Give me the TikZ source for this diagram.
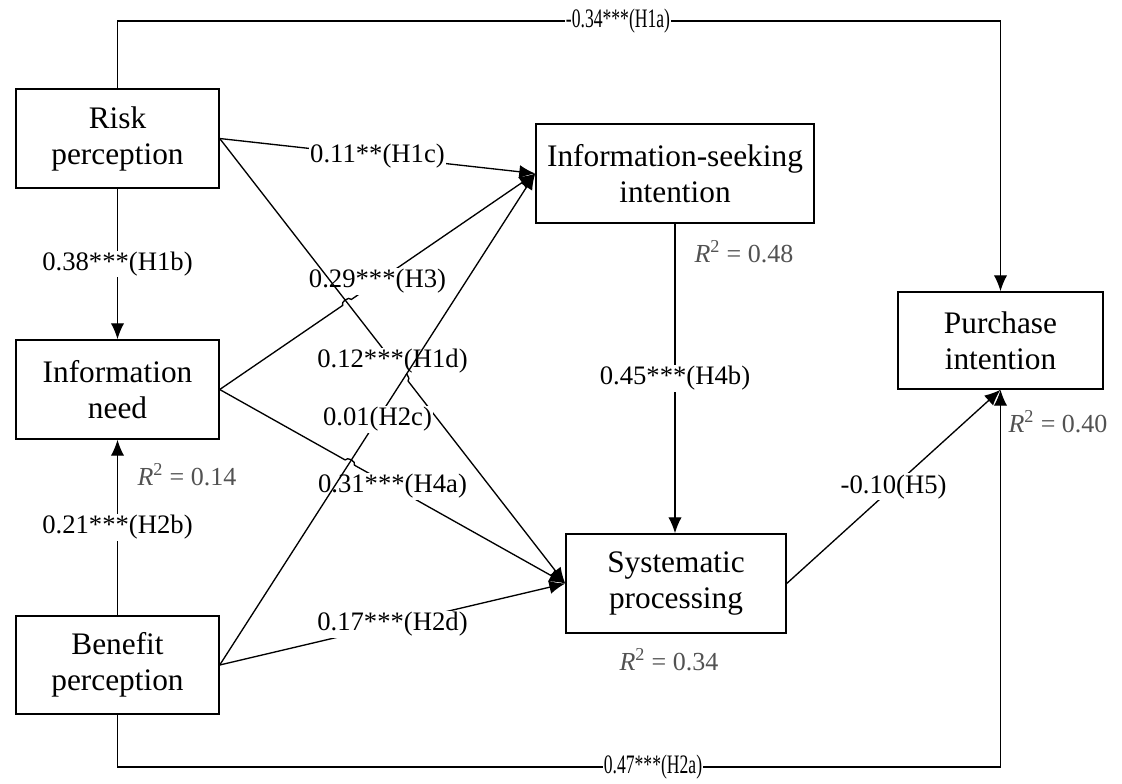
\documentclass[tikz,border=0pt]{standalone}
\usepackage{fontspec}
\setmainfont{Liberation Serif}
\usetikzlibrary{arrows.meta,calc}
\begin{document}
\begin{tikzpicture}[x=0.75pt,y=-0.75pt,
  box/.style={draw, line width=1.1pt, align=center, inner sep=0pt,
    font=\fontsize{23.5}{27}\selectfont},
  lbl/.style={fill=white, inner sep=1pt, font=\fontsize{20}{24}\selectfont},
  longlbl/.style={fill=white, inner sep=1pt, font=\fontsize{20}{24}\selectfont},
  rsq/.style={text=black!68, font=\fontsize{19.5}{22}\selectfont},
  conn/.style={line width=1pt, -{Latex[length=12pt,width=10pt]}},
  plain/.style={line width=1pt}
  ]
\useasboundingbox (0,0) rectangle (1122,783);

% boxes
\node[box, minimum width=152.25pt, minimum height=74.25pt] (risk) at (117.5,138.5) {Risk\\perception};
\node[box, minimum width=152.25pt, minimum height=74.25pt] (info) at (117.5,389.5) {Information\\need};
\node[box, minimum width=152.25pt, minimum height=73.5pt] (benefit) at (117.5,665) {Benefit\\perception};
\node[box, minimum width=208.5pt, minimum height=74.25pt] (seek) at (675,173.5) {Information-seeking\\intention};
\node[box, minimum width=165pt, minimum height=74.25pt] (sys) at (676,583.5) {Systematic\\processing};
\node[box, minimum width=153.75pt, minimum height=72.75pt] (buy) at (1000.5,340.5) {Purchase\\intention};

% crossing points
\coordinate (x1) at (intersection of risk.east--sys.west and info.east--seek.west);
\coordinate (x2) at (intersection of risk.east--sys.west and benefit.east--seek.west);
\coordinate (x3) at (intersection of info.east--sys.west and benefit.east--seek.west);

% H1c
\draw[conn] (risk.east) -- (seek.west);
\node[lbl] (l1c) at ($(risk.east)!0.5!(seek.west)$) {0.11**(H1c)};

% H3
\draw[conn] (info.east) -- ($(x1)!4pt!(info.east)$) to[bend left=90] ($(x1)!4pt!(seek.west)$) -- (seek.west);
\node[lbl] (l3) at ($(info.east)!0.5!(seek.west)$) {0.29***(H3)};

% H1d
\draw[conn] (risk.east) -- ($(x2)!4pt!(risk.east)$) to[bend left=90] ($(x2)!4pt!(sys.west)$) -- (sys.west);
\node[lbl] (l1d) at ($(risk.east)!0.5!(sys.west)$) {0.12***(H1d)};

% H4a
\draw[conn] (info.east) -- ($(x3)!4pt!(info.east)$) to[bend left=90] ($(x3)!4pt!(sys.west)$) -- (sys.west);
\node[lbl] (l4a) at ($(info.east)!0.5!(sys.west)$) {0.31***(H4a)};

% H2c
\draw[conn] (benefit.east) -- (seek.west);
\node[lbl] (l2c) at ($(benefit.east)!0.5!(seek.west)$) {0.01(H2c)};

% H2d
\draw[conn] (benefit.east) -- (sys.west);
\node[lbl] (l2d) at ($(benefit.east)!0.5!(sys.west)$) {0.17***(H2d)};

% H1b
\draw[conn] (risk.south) -- (info.north);
\node[lbl] (l1b) at ($(risk.south)!0.5!(info.north)$) {0.38***(H1b)};

% H2b
\draw[conn] (benefit.north) -- (info.south);
\node[lbl] (l2b) at ($(benefit.north)!0.5!(info.south)$) {0.21***(H2b)};

% H4b
\draw[conn] (seek.south) -- (seek.south |- sys.north);
\node[lbl] (l4b) at ($(seek.south)!0.5!(seek.south |- sys.north)$) {0.45***(H4b)};

% H5
\draw[conn] (sys.east) -- (buy.south);
\node[lbl] (l5) at ($(sys.east)!0.5!(buy.south)$) {-0.10(H5)};

% H1a
\coordinate (top) at (0,21);
\draw[conn] (risk.north) -- (risk.north |- top) -- (buy.north |- top) -- (buy.north);
\node[longlbl] (l1a) at (618,21) {\scalebox{0.66}[1]{-0.34***(H1a)}};

% H2a
\coordinate (bot) at (0,767);
\draw[conn] (benefit.south) -- (benefit.south |- bot) -- (buy.south |- bot) -- (buy.south);
\node[longlbl] (l2a) at (653,767) {\scalebox{0.66}[1]{0.47***(H2a)}};

% R squared
\node[rsq] (r1) at (187,475) {\textit{R}\textsuperscript{2} = 0.14};
\node[rsq] (r2) at (744,252) {\textit{R}\textsuperscript{2} = 0.48};
\node[rsq] (r3) at (669,660) {\textit{R}\textsuperscript{2} = 0.34};
\node[rsq] (r4) at (1058,422) {\textit{R}\textsuperscript{2} = 0.40};
\end{tikzpicture}
\end{document}
